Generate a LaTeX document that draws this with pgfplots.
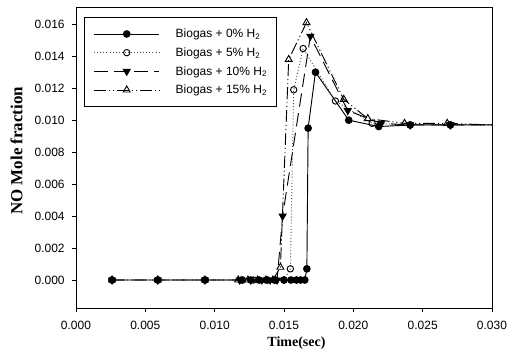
\documentclass[border=0pt]{standalone}
\usepackage{fontspec}
\setmainfont{Liberation Sans}
\newfontfamily\serifbold{Liberation Serif}
\usepackage{pgfplots}
\pgfplotsset{compat=1.18}

% NO mole fraction versus time for biogas with added hydrogen
\begin{document}
\begin{tikzpicture}
\begin{axis}[
  scale only axis,
  width=312pt, height=225.4pt,
  xmin=0, xmax=0.030,
  ymin=-0.00175, ymax=0.01705,
  xtick={0,0.005,0.010,0.015,0.020,0.025,0.030},
  ytick={0,0.002,0.004,0.006,0.008,0.010,0.012,0.014,0.016},
  scaled ticks=false,
  /pgf/number format/fixed,
  /pgf/number format/fixed zerofill,
  /pgf/number format/precision=3,
  /pgf/number format/assume math mode=true,
  tick label style={font=\fontsize{9}{10}\selectfont},
  xticklabel style={yshift=-3.5pt},
  yticklabel style={xshift=-2pt},
  tick pos=left,
  tick align=outside,
  major tick length=3pt,
  axis line style={line width=0.7pt},
  every tick/.style={black, line width=0.6pt},
  xlabel={\serifbold\bfseries Time(sec)},
  ylabel={\serifbold\bfseries NO Mole fraction},
  xlabel style={font=\fontsize{10.5}{12}\selectfont, at={(axis description cs:0.530,-0.118)}, anchor=center},
  ylabel style={font=\fontsize{12.7}{14}\selectfont, at={(axis description cs:-0.143,0.523)}, anchor=center},
  legend style={
    at={(axis description cs:0,1)}, anchor=north west,
    xshift=6pt, yshift=-7.35pt,
    draw=black, line width=0.6pt,
    inner xsep=7pt, inner ysep=5.25pt,
    column sep=12pt, row sep=0pt,
    font=\fontsize{9}{10}\selectfont,
    nodes={inner xsep=0pt, inner ysep=0pt, text height=10pt, text depth=4pt},
  },
  legend cell align=left,
  legend image code/.code={
    \draw[#1, mark=none] (0pt,0pt) -- (48.75pt,0pt);
    \draw[#1, only marks] plot coordinates {(24.4pt,0pt)};
  },
]

% Biogas + 0% H2
\addplot[black, line width=0.7pt, mark=*, mark size=2.5pt,
  mark options={solid, fill=black},
  mark indices={1,2,3,4,5,6,7,8,9,10,11,12,13,14,15,16,17,18,19,20}]
  coordinates {
  (0.0026,0) (0.0059,0) (0.0093,0) (0.0120,0) (0.0126,0) (0.0132,0)
  (0.0138,0) (0.0143,0) (0.0150,0) (0.0155,0) (0.0159,0) (0.0162,0)
  (0.0165,0) (0.01665,0.0007) (0.01674,0.0095) (0.01727,0.0130)
  (0.01967,0.0100) (0.02183,0.0096) (0.0241,0.0097) (0.0270,0.0097)
  (0.0300,0.0097)
};
\addlegendentry{Biogas + 0\% H\textsubscript{2}}

% Biogas + 5% H2
\addplot[black!70, line width=0.7pt, dash pattern=on 0.7pt off 1.6pt,
  mark=o, mark size=2.4pt,
  mark options={solid, black, fill=white},
  mark indices={1,2,3,4,5,6,7,8,9,10,11,12,13,14,15}]
  coordinates {
  (0.0026,0) (0.0059,0) (0.0093,0) (0.0119,0) (0.0128,0) (0.0137,0)
  (0.0144,0) (0.0150,0) (0.01546,0.0007) (0.0157,0.0119)
  (0.01638,0.01448) (0.01871,0.0112) (0.02136,0.0098) (0.0241,0.0097)
  (0.0270,0.0097) (0.0300,0.0097)
};
\addlegendentry{Biogas + 5\% H\textsubscript{2}}

% Biogas + 10% H2
\addplot[black, line width=0.7pt, dash pattern=on 10pt off 5pt,
  mark=triangle*, mark size=3pt,
  mark options={solid, fill=black, rotate=180},
  mark indices={1,2,3,4,5,6,7,8,9,10,11,12,13,14}]
  coordinates {
  (0.0026,0) (0.0059,0) (0.0093,0) (0.0118,0) (0.0126,0) (0.0134,0)
  (0.0140,0) (0.0145,0) (0.0149,0.0040) (0.0169,0.01525)
  (0.0196,0.0106) (0.0220,0.0098) (0.0241,0.0097) (0.0270,0.0097)
  (0.0300,0.0097)
};
\addlegendentry{Biogas + 10\% H\textsubscript{2}}

% Biogas + 15% H2
\addplot[black, line width=0.7pt,
  dash pattern=on 9pt off 2.2pt on 0.8pt off 2.2pt on 0.8pt off 2.2pt,
  mark=triangle, mark size=3pt,
  mark options={solid, fill=white},
  mark indices={1,2,3,4,5,6,7,8,9,10,11,12,13,14,15}]
  coordinates {
  (0.0026,0) (0.0059,0) (0.0093,0) (0.0117,0) (0.0124,0) (0.0131,0)
  (0.0137,0) (0.0142,0) (0.01474,0.0008) (0.01534,0.0138)
  (0.01662,0.0161) (0.01931,0.0113) (0.02104,0.0101) (0.02369,0.0098)
  (0.02677,0.0098) (0.0300,0.0097)
};
\addlegendentry{Biogas + 15\% H\textsubscript{2}}

\end{axis}
\pgfresetboundingbox
\path[use as bounding box]
  ([xshift=-57pt,yshift=-35.25pt]current axis.south west)
  rectangle ([xshift=11.25pt,yshift=5.6pt]current axis.north east);
\end{tikzpicture}
\end{document}
